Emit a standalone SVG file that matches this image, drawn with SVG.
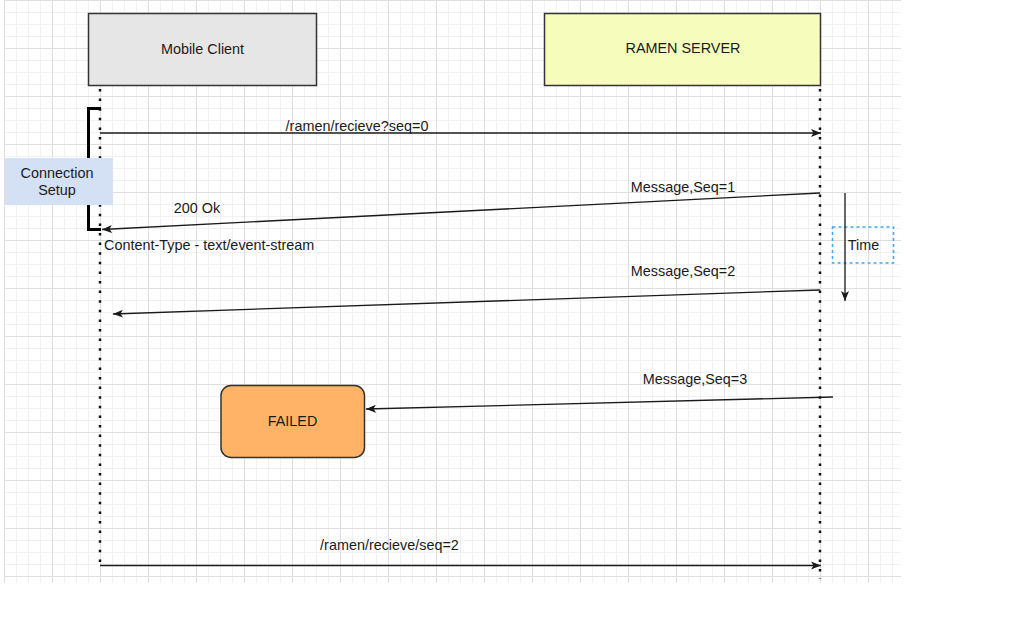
<svg xmlns="http://www.w3.org/2000/svg" width="1024" height="640" viewBox="0 0 1024 640">
<defs>
<style>
text{font-family:"Liberation Sans",Arial,sans-serif;font-size:14.4px;fill:#1a1a1a}
.mid{text-anchor:middle}
.conn{fill:none;stroke:#1a1a1a;stroke-width:1.3;marker-end:url(#arr)}
.life{fill:none;stroke:#111;stroke-width:2.5;stroke-dasharray:2.5 7.1}
</style>
<pattern id="minor" width="12" height="12" patternUnits="userSpaceOnUse" x="4" y="0">
<path d="M0.5 0V12M0 0.5H12" fill="none" stroke="#f1f1f1" stroke-width="1"/>
</pattern>
<pattern id="major" width="48" height="48" patternUnits="userSpaceOnUse" x="4" y="0">
<path d="M0.5 0V48M0 0.5H48" fill="none" stroke="#dedede" stroke-width="1"/>
</pattern>
<marker id="arr" viewBox="0 0 10 10" refX="10" refY="5" markerWidth="10" markerHeight="10" orient="auto" markerUnits="userSpaceOnUse">
<path d="M0,1 L10,5 L0,9 L2.5,5 Z" fill="#1a1a1a"/>
</marker>
</defs>
<rect width="1024" height="640" fill="#ffffff"/>
<g id="grid">
<rect x="4" y="0" width="897" height="583" fill="url(#minor)"/>
<rect x="4" y="0" width="897" height="583" fill="url(#major)"/>
</g>
<g id="lifelines">
<path class="life" d="M100 89V567"/>
<path class="life" d="M820 89V579"/>
</g>
<g id="bracket">
<path d="M101 108.5H88.5V229.5H101" fill="none" stroke="#000" stroke-width="3"/>
</g>
<g id="mobile-client">
<rect x="88.5" y="13.5" width="228" height="72" fill="#e6e6e6" stroke="#333" stroke-width="1.5"/>
<text class="mid" x="202.5" y="53.5">Mobile Client</text>
</g>
<g id="ramen-server">
<rect x="544.5" y="13.5" width="276" height="72" fill="#f5fcbc" stroke="#333" stroke-width="1.5"/>
<text class="mid" x="683" y="53">RAMEN SERVER</text>
</g>
<g id="connection-setup">
<rect x="5" y="158" width="108" height="47" fill="#d4e1f5"/>
<text class="mid" x="57" y="177.5">Connection</text>
<text class="mid" x="57" y="195">Setup</text>
</g>
<g id="time-box">
<rect x="832.5" y="227" width="61" height="36" fill="none" stroke="#3fa9ef" stroke-width="1.5" stroke-dasharray="3 3"/>
<text class="mid" x="863.5" y="250">Time</text>
</g>
<g id="failed">
<rect x="221" y="385.5" width="143.5" height="72" rx="10" ry="10" fill="#ffb366" stroke="#333" stroke-width="1.5"/>
<text class="mid" x="292.5" y="426">FAILED</text>
</g>
<g id="connectors">
<path class="conn" d="M100 133H821"/>
<path class="conn" d="M820 193L102 229.5"/>
<path class="conn" d="M820 290L113 314"/>
<path class="conn" d="M845 193V301"/>
<path class="conn" d="M833 397L366 409"/>
<path class="conn" style="stroke-width:1.7" d="M100 565.5H821"/>
</g>
<g id="labels">
<text class="mid" x="357" y="130.5">/ramen/recieve?seq=0</text>
<text class="mid" x="683" y="192">Message,Seq=1</text>
<text class="mid" x="197" y="213">200 Ok</text>
<text x="104" y="250">Content-Type - text/event-stream</text>
<text class="mid" x="683" y="275.5">Message,Seq=2</text>
<text class="mid" x="695" y="384">Message,Seq=3</text>
<text class="mid" x="389.5" y="550">/ramen/recieve/seq=2</text>
</g>
</svg>
